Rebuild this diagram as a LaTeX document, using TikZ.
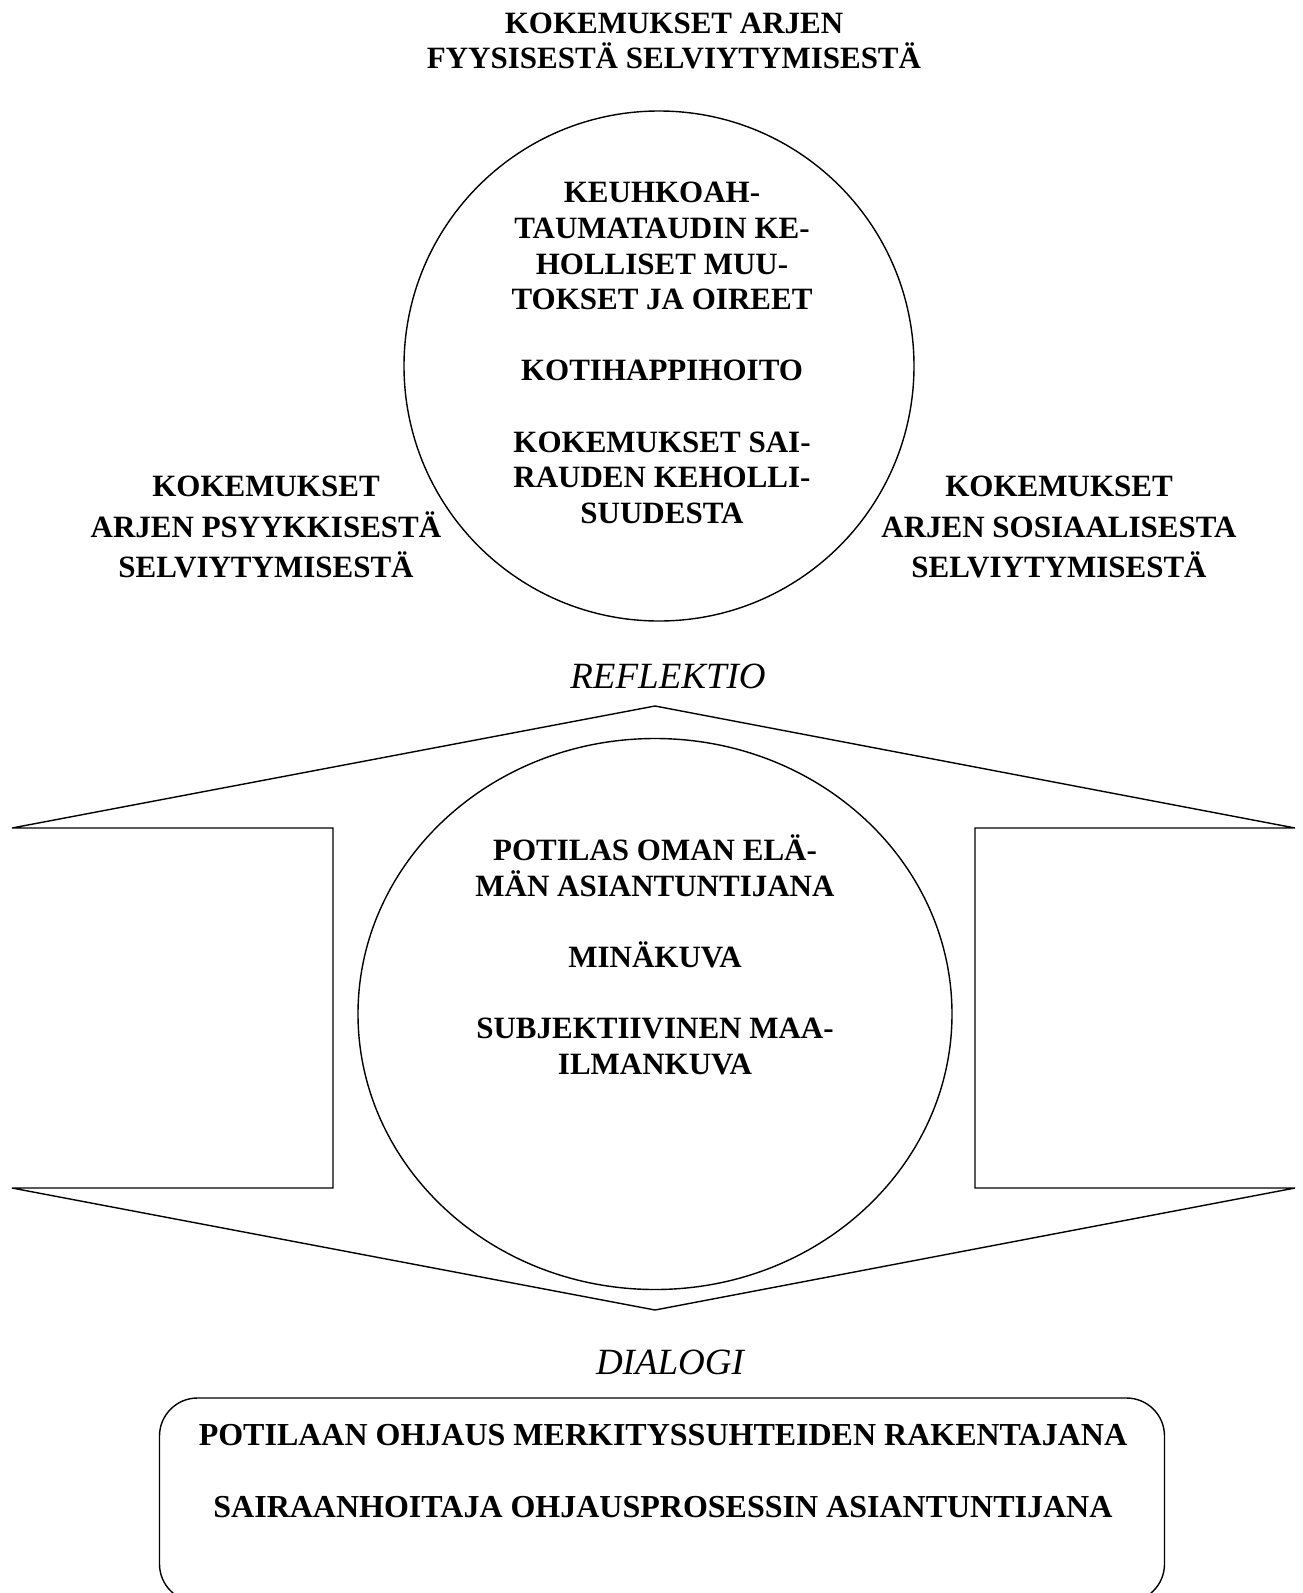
\documentclass[tikz,border=0pt]{standalone}
\usepackage{fontspec}
\setmainfont{Liberation Serif}
\usetikzlibrary{shapes.geometric}
\begin{document}
\begin{tikzpicture}[x=1pt,y=-1pt,
  lbl/.style={font=\bfseries\fontsize{31}{35.6}\selectfont, align=center, inner sep=0pt},
  boxlbl/.style={font=\bfseries\fontsize{32}{35.6}\selectfont, align=center, inner sep=0pt},
  side/.style={font=\bfseries\fontsize{31}{40.5}\selectfont, align=center, inner sep=0pt},
  itl/.style={font=\itshape\fontsize{37}{40}\selectfont, inner sep=0pt},
  ln/.style={line width=1.4pt}]
\useasboundingbox (0,0) rectangle (1303,1593);
% outer arrow shape
\coordinate (top) at (655,706);
\coordinate (lt) at (12,828);
\coordinate (li1) at (333,828);
\coordinate (li2) at (333,1188);
\coordinate (lb) at (12,1188);
\coordinate (bot) at (655,1310);
\coordinate (rb) at (1295,1188);
\coordinate (ri2) at (975,1188);
\coordinate (ri1) at (975,828);
\coordinate (rt) at (1295,828);
\draw[ln, line join=miter] (top) -- (lt) -- (li1) -- (li2) -- (lb) -- (bot) -- (rb) -- (ri2) -- (ri1) -- (rt) -- cycle;
% circles
\node[draw, ln, circle, minimum size=510pt, inner sep=0pt] (c1) at (659,366) {};
\node[draw, ln, ellipse, minimum width=594pt, minimum height=551pt, inner sep=0pt] (c2) at (655,1014) {};
% rounded box
\node[draw, ln, rectangle, rounded corners=38pt, minimum width=1005pt, minimum height=204pt, inner sep=0pt] (box) at (662,1500) {};
% texts
\node[lbl] (ttop) at (674,41) {KOKEMUKSET ARJEN\\FYYSISESTÄ SELVIYTYMISESTÄ};
\node[lbl] (tc1) at (662,353) {KEUHKOAH-\\TAUMATAUDIN KE-\\HOLLISET MUU-\\TOKSET JA OIREET\\[35.6pt]KOTIHAPPIHOITO\\[35.6pt]KOKEMUKSET SAI-\\RAUDEN KEHOLLI-\\SUUDESTA};
\node[side] (tleft) at (266,527) {KOKEMUKSET\\ARJEN PSYYKKISESTÄ\\SELVIYTYMISESTÄ};
\node[side] (tright) at (1059,527) {KOKEMUKSET\\ARJEN SOSIAALISESTA\\SELVIYTYMISESTÄ};
\node[itl] (refl) at (668,676) {REFLEKTIO};
\node[lbl] (tc2) at (655,955) {POTILAS OMAN ELÄ-\\MÄN ASIANTUNTIJANA\\[35.6pt]MINÄKUVA\\[35.6pt]SUBJEKTIIVINEN MAA-\\ILMANKUVA};
\node[itl] (dial) at (670,1362) {DIALOGI};
\node[boxlbl] (tbox) at (663,1471) {POTILAAN OHJAUS MERKITYSSUHTEIDEN RAKENTAJANA\\[35.6pt]SAIRAANHOITAJA OHJAUSPROSESSIN ASIANTUNTIJANA};
\end{tikzpicture}
\end{document}
